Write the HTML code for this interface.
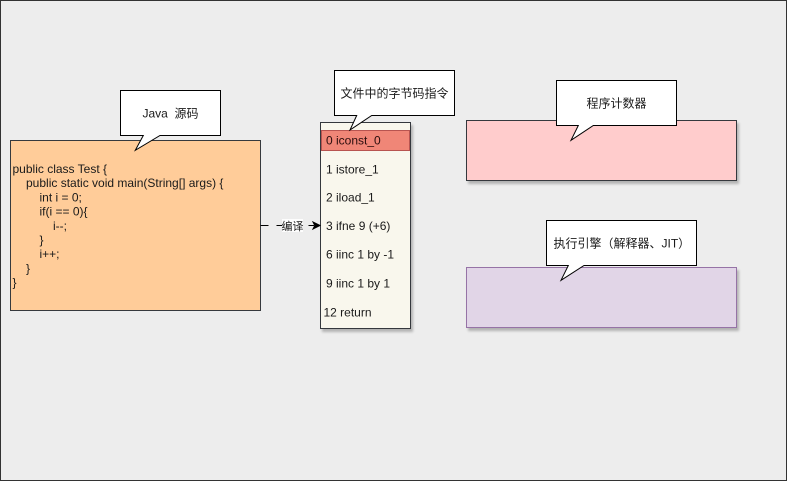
<!DOCTYPE html>
<html><head><meta charset="utf-8"><style>
html,body{margin:0;padding:0;background:#ededed;}
svg{display:block;}
text{font-family:"Liberation Sans","Noto Sans CJK SC",sans-serif;font-size:12px;fill:#1a1a1a;}
</style></head><body>
<svg width="787" height="481" viewBox="0 0 787 481" xmlns="http://www.w3.org/2000/svg">
<defs>
<filter id="sh" x="-5%" y="-5%" width="115%" height="130%">
<feGaussianBlur in="SourceAlpha" stdDeviation="1.2"/>
<feOffset dx="2" dy="3" result="b"/>
<feComponentTransfer><feFuncA type="linear" slope="0.25"/></feComponentTransfer>
<feMerge><feMergeNode/><feMergeNode in="SourceGraphic"/></feMerge>
</filter>
</defs>
<rect x="0.5" y="0.5" width="786" height="480" fill="#ededed" stroke="#333" stroke-width="1"/>

<!-- Java source box -->
<rect x="10.5" y="140.5" width="250" height="170" fill="#ffcc99" stroke="#36393d" stroke-width="1"/>
<g>
<text x="12.5" y="173">public class Test {</text>
<text x="26" y="187">public static void main(String[] args) {</text>
<text x="39.5" y="201.5">int i = 0;</text>
<text x="39.5" y="215.5">if(i == 0){</text>
<text x="53" y="230">i--;</text>
<text x="39.5" y="244">}</text>
<text x="39.5" y="258">i++;</text>
<text x="26" y="272.5">}</text>
<text x="12.5" y="286.5">}</text>
</g>

<!-- Java callout -->
<path d="M120.5,90.5 H220.5 V135.5 H160 L135.3,150.3 L143.3,135.5 H120.5 Z" fill="#fff" stroke="#000" stroke-width="1"/>
<text x="170.5" y="117.5" text-anchor="middle">Java&#160; 源码</text>

<!-- bytecode box -->
<rect x="320.5" y="122.5" width="90" height="206" fill="#f9f7ed" stroke="#36393d" stroke-width="1" filter="url(#sh)"/>
<rect x="321.5" y="130.5" width="88" height="20" fill="#f08677" stroke="#b85450" stroke-width="1"/>
<text x="326" y="144.5" style="fill:#2a0d0d">0 iconst_0</text>
<text x="326" y="173.5">1 istore_1</text>
<text x="326" y="201.5">2 iload_1</text>
<text x="326" y="230">3 ifne 9 (+6)</text>
<text x="326" y="258.5">6 iinc 1 by -1</text>
<text x="326" y="287.5">9 iinc 1 by 1</text>
<text x="323.5" y="316.5">12 return</text>

<!-- bytecode callout -->
<path d="M334.5,70.5 H454.5 V115.5 H371.7 L350,130 L356.7,115.5 H334.5 Z" fill="#fff" stroke="#000" stroke-width="1"/>
<text x="394.5" y="97.5" text-anchor="middle">文件中的字节码指令</text>

<!-- edge -->
<line x1="260.5" y1="225.5" x2="314" y2="225.5" stroke="#000" stroke-width="1" stroke-dasharray="8 8"/>
<path d="M320,225.5 L313,222 L314.8,225.5 L313,229 Z" fill="#000" stroke="#000" stroke-width="1"/>
<rect x="282" y="219" width="21" height="13" fill="#fff" opacity="0.85"/>
<text x="292.5" y="230" text-anchor="middle" style="font-size:11px">编译</text>

<!-- program counter -->
<rect x="466.5" y="120.5" width="270" height="60" fill="#ffcccc" stroke="#36393d" stroke-width="1" filter="url(#sh)"/>
<path d="M556.5,80.5 H676.5 V125.5 H593.3 L571,140.3 L578.3,125.5 H556.5 Z" fill="#fff" stroke="#000" stroke-width="1"/>
<text x="616.5" y="107.5" text-anchor="middle">程序计数器</text>

<!-- execution engine -->
<rect x="466.5" y="267.5" width="270" height="60" fill="#e1d5e7" stroke="#9673a6" stroke-width="1" filter="url(#sh)"/>
<path d="M546.5,220.5 H696.5 V265.5 H584 L561,280.3 L568.3,265.5 H546.5 Z" fill="#fff" stroke="#000" stroke-width="1"/>
<text x="553.5" y="247.5">执行引擎（解释器、JIT）</text>
</svg>
</body></html>
